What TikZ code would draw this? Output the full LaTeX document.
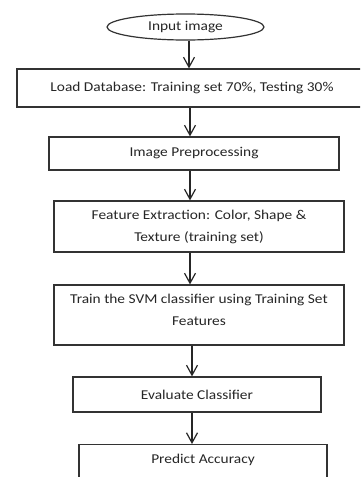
\documentclass[tikz,border=0pt]{standalone}
\usepackage{fontspec}
\setmainfont{Carlito}
\usetikzlibrary{arrows.meta,shapes.geometric}
\newcommand{\wx}[1]{\scalebox{1.14}[1]{#1}}
\begin{document}
\begin{tikzpicture}[x=1pt,y=-1pt,
  box/.style={draw=black!80,line width=1.2pt,rectangle,align=center,inner sep=0pt,
    font=\fontsize{13.5}{22}\selectfont,text=black!85},
  txt/.style={align=center,inner sep=0pt,font=\fontsize{13.5}{22}\selectfont,text=black!85},
  oval/.style={draw=black!80,line width=1.2pt,ellipse,inner sep=0pt,
    font=\fontsize{13.5}{15}\selectfont,text=black!85},
  arr/.style={draw=black!85,line width=1.2pt,-{Straight Barb[length=10pt,width=11pt,line width=1.2pt]}}]
\clip (0,0) rectangle (360,477);
\fill[white] (0,0) rectangle (360,477);
\node[oval,minimum width=157pt,minimum height=26pt] (e) at (185.5,27) {\wx{Input image}};
\node[box,minimum width=350pt,minimum height=38pt] (b1) at (192,88) {\wx{Load Database: Training set 70\%, Testing 30\%}};
\node[box,minimum width=290pt,minimum height=33pt] (b2) at (194,153.5) {\wx{Image Preprocessing}};
\node[box,minimum width=290pt,minimum height=51pt] (b3) at (199,226.5) {\wx{Feature Extraction: Color, Shape \&}\\\wx{Texture (training set)}};
\node[box,minimum width=290pt,minimum height=60pt,
  label={[txt,yshift=5pt]center:\wx{Train the SVM classifier using Training Set}\\\wx{Features}}] (b4) at (199,315) {};
\node[box,minimum width=248pt,minimum height=35pt] (b5) at (197,394.5) {\wx{Evaluate Classifier}};
\node[box,minimum width=248pt,minimum height=60pt,anchor=north,
  label={[txt,yshift=15pt]center:\wx{Predict Accuracy}}] (b6) at (203,444) {};
\coordinate (a1) at (189,0);
\coordinate (a2) at (190,0);
\coordinate (a3) at (190,0);
\coordinate (a4) at (190,0);
\coordinate (a5) at (192,0);
\coordinate (a6) at (192,0);
\draw[arr] (e.south -| a1) -- (b1.north -| a1);
\draw[arr] (b1.south -| a2) -- (b2.north -| a2);
\draw[arr] (b2.south -| a3) -- (b3.north -| a3);
\draw[arr] (b3.south -| a4) -- (b4.north -| a4);
\draw[arr] (b4.south -| a5) -- (b5.north -| a5);
\draw[arr] (b5.south -| a6) -- (b6.north -| a6);
\end{tikzpicture}
\end{document}
